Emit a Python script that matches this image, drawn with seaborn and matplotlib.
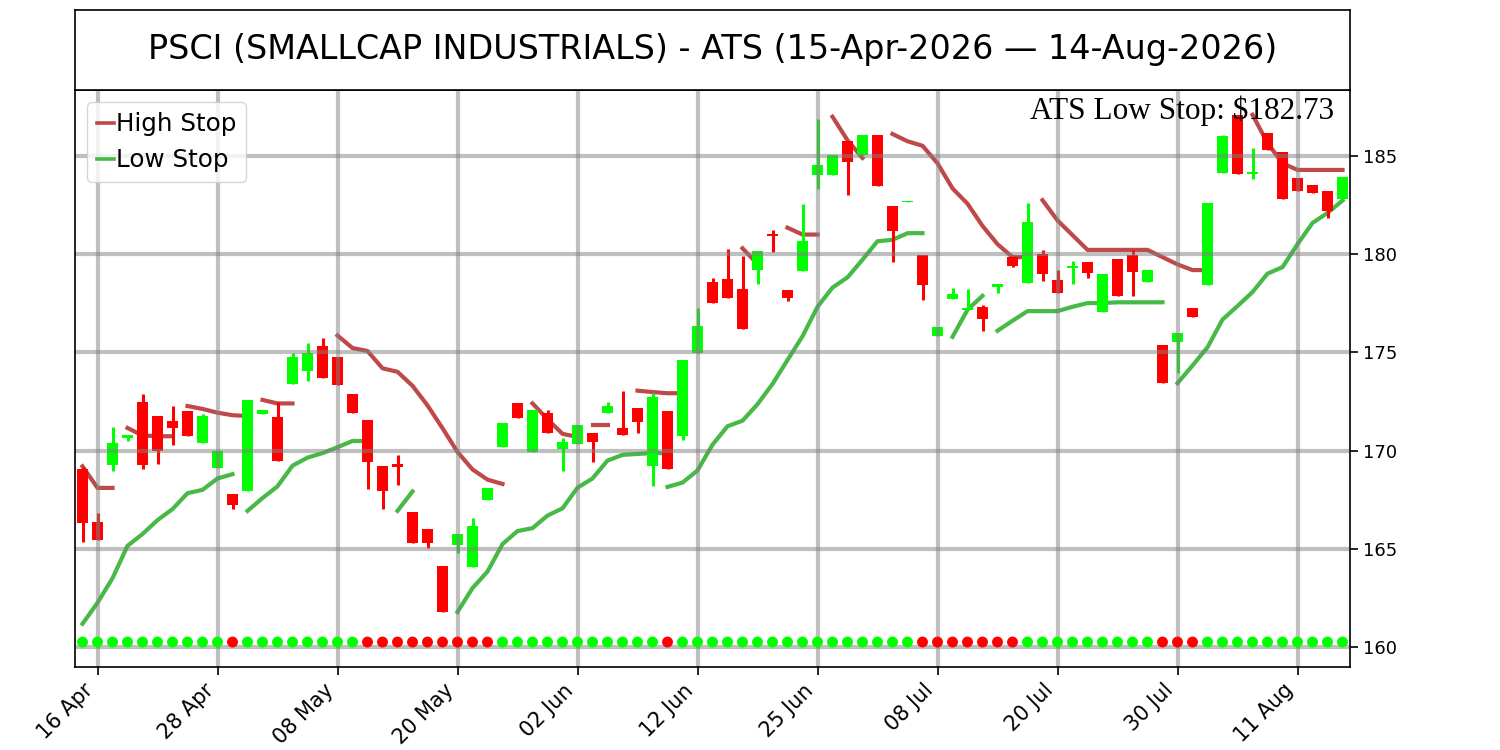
import numpy as np
import pandas as pd
import matplotlib
matplotlib.use("Agg")
import matplotlib.pyplot as plt
from matplotlib.lines import Line2D
import seaborn as sns

# ---------------- data ----------------
title = "PSCI (SMALLCAP INDUSTRIALS) - ATS (15-Apr-2026 \u2014 14-Aug-2026)"
tick_pos = [1, 9, 17, 25, 33, 41, 49, 57, 65, 73, 81]
tick_labels = ["16 Apr", "28 Apr", "08 May", "20 May", "02 Jun", "12 Jun",
               "25 Jun", "08 Jul", "20 Jul", "30 Jul", "11 Aug"]

opens = [169.08, 166.37, 169.27, 170.66, 172.49, 171.74, 171.52, 171.99, 170.39, 169.12,
         167.77, 167.96, 171.85, 171.70, 173.39, 174.04, 175.32, 174.76, 172.88, 171.55,
         169.23, 169.33, 166.89, 166.03, 164.12, 165.21, 164.08, 167.49, 170.17, 172.42,
         169.93, 171.93, 170.06, 170.34, 170.92, 171.89, 171.14, 172.17, 169.23, 171.99,
         170.73, 174.98, 178.60, 178.73, 178.22, 179.19, 181.03, 178.16, 179.14, 184.03,
         184.03, 185.75, 185.04, 186.09, 182.47, 182.68, 179.94, 175.82, 177.70, 177.17,
         177.32, 178.35, 179.85, 178.54, 180.00, 178.67, 179.29, 179.61, 177.04, 179.76,
         179.94, 178.60, 175.39, 175.54, 177.27, 178.45, 184.12, 187.10, 184.06, 186.16,
         185.22, 183.88, 183.54, 183.22, 182.81]
highs = [169.18, 166.84, 171.18, 170.80, 172.87, 171.74, 172.27, 171.99, 171.85, 169.98,
         167.77, 172.60, 172.08, 172.45, 174.98, 175.49, 175.73, 174.76, 172.88, 171.55,
         169.23, 169.79, 166.89, 166.03, 164.12, 165.75, 166.59, 168.11, 171.42, 172.42,
         172.08, 172.08, 170.62, 171.29, 170.92, 172.49, 173.05, 172.17, 172.92, 171.99,
         174.63, 177.28, 178.78, 180.28, 179.91, 180.17, 181.25, 178.16, 182.57, 186.87,
         185.04, 185.75, 186.09, 186.09, 182.47, 182.72, 179.94, 176.29, 178.30, 178.22,
         177.42, 178.48, 179.85, 182.62, 180.21, 179.19, 179.64, 179.61, 179.01, 179.76,
         180.22, 179.19, 175.39, 176.01, 177.27, 182.62, 186.09, 187.10, 185.41, 186.16,
         185.22, 183.88, 183.54, 183.22, 183.93]
lows = [165.37, 165.43, 168.95, 170.49, 169.04, 169.31, 170.30, 170.73, 170.39, 169.12,
        167.02, 167.96, 171.85, 169.46, 173.39, 173.54, 173.71, 173.35, 171.93, 168.05,
        167.02, 168.24, 165.30, 165.06, 161.78, 164.78, 164.08, 167.49, 170.17, 171.67,
        169.93, 170.92, 168.95, 170.34, 169.42, 171.89, 170.77, 170.92, 168.18, 169.04,
        170.54, 174.98, 177.51, 177.75, 176.20, 178.48, 180.09, 177.60, 179.14, 183.31,
        184.03, 183.00, 185.04, 183.45, 179.61, 182.68, 177.66, 175.82, 177.70, 177.17,
        176.10, 178.03, 179.35, 178.54, 178.63, 178.03, 178.48, 178.78, 177.04, 177.85,
        177.88, 178.60, 173.43, 173.95, 176.80, 178.45, 184.12, 184.06, 183.82, 185.28,
        182.79, 183.22, 183.09, 181.82, 182.81]
closes = [166.31, 165.43, 170.39, 170.77, 169.27, 169.98, 171.14, 170.73, 171.74, 169.98,
          167.25, 172.60, 172.08, 169.46, 174.74, 174.98, 173.71, 173.35, 171.93, 169.42,
          167.96, 169.14, 165.30, 165.30, 161.78, 165.75, 166.14, 168.11, 171.42, 171.67,
          172.08, 170.92, 170.43, 171.29, 170.43, 172.27, 170.81, 171.48, 172.73, 169.04,
          174.63, 176.35, 177.51, 177.75, 176.20, 180.17, 180.92, 177.79, 180.69, 184.53,
          185.04, 184.68, 186.09, 183.45, 181.16, 182.72, 178.41, 176.29, 177.98, 177.28,
          176.72, 178.48, 179.42, 181.63, 179.01, 178.03, 179.42, 179.04, 179.01, 177.85,
          179.10, 179.19, 173.43, 176.01, 176.80, 182.62, 186.03, 184.06, 184.16, 185.28,
          182.79, 183.22, 183.09, 182.19, 183.93]

# trend signal dots (g = up, r = down), one per session
signal = list("gggggggggg" "r" "gggggggg" "rrrrrrrrr" "ggggggggggg" "r"
              "gggggggggggggggg" "rrrrrrr" "ggggggggg" "rrr" "gggggggggg")
signal_level = 160.25

# stop-line segments: (start index, values)
high_stop_segments = [
    (0, [169.2, 168.1, 168.1]),
    (3, [171.15, 170.77, 170.73, 170.73]),
    (7, [172.27, 172.12, 171.93, 171.80, 171.76]),
    (12, [172.58, 172.40, 172.40]),
    (17, [175.86, 175.22, 175.07, 174.19, 174.01, 173.30, 172.30, 171.14, 169.93,
          169.04, 168.52, 168.30]),
    (30, [172.40, 171.60, 170.85, 170.70]),
    (34, [171.30, 171.30]),
    (37, [173.05, 172.98, 172.92, 172.92]),
    (44, [180.30, 179.50]),
    (47, [181.35, 181.00, 181.00]),
    (50, [187.00, 185.80, 184.90]),
    (54, [186.12, 185.75, 185.52, 184.63, 183.35, 182.57, 181.44, 180.51, 179.85, 179.85]),
    (64, [182.75, 181.72, 180.97, 180.22, 180.22, 180.22, 180.22, 180.22, 179.85,
          179.48, 179.19, 179.19]),
    (78, [187.10, 185.66, 184.63, 184.29, 184.29, 184.29, 184.29]),
]
low_stop_segments = [
    (0, [161.18, 162.25, 163.50, 165.15, 165.75, 166.46, 167.02, 167.83, 168.00,
         168.58, 168.80]),
    (11, [166.93, 167.58, 168.18, 169.23, 169.64, 169.87, 170.17, 170.49, 170.49]),
    (21, [166.93, 167.92]),
    (25, [161.78, 163.00, 163.84, 165.24, 165.90, 166.05, 166.69, 167.06, 168.11,
          168.58, 169.49, 169.78, 169.83, 169.87, 169.87]),
    (39, [168.15, 168.37, 168.99, 170.30, 171.24, 171.52, 172.36, 173.39, 174.61,
          175.82, 177.32, 178.30, 178.82, 179.72, 180.66, 180.73, 181.07, 181.07]),
    (58, [175.79, 177.17, 177.88]),
    (61, [176.10, 176.61, 177.10, 177.10, 177.10, 177.32, 177.51, 177.51, 177.55,
          177.55, 177.55, 177.55]),
    (73, [173.43, 174.33, 175.26, 176.67, 177.36, 178.07, 179.01, 179.34, 180.51,
          181.59, 182.10, 182.73]),
]
ats_text = "ATS Low Stop: $182.73"

# ---------------- styling ----------------
UP = "#00ff00"
DOWN = "#ff0000"
HIGH_C = "#bf4848"
LOW_C = "#46b946"

plt.rcParams["font.family"] = ["DejaVu Sans"]

fig = plt.figure(figsize=(15, 7.5), dpi=100)
ax = fig.add_axes([0.05, 1 - 667 / 750, 0.85, 577 / 750])
tax = fig.add_axes([0.05, 1 - 90 / 750, 0.85, 80 / 750])

n = len(opens)
idx = np.arange(n)
o = np.array(opens); c = np.array(closes)
h = np.array(highs); l = np.array(lows)
col = np.where(c >= o, UP, DOWN)

# stop lines (under candles)
def seg_frame(segs):
    rows = []
    for k, (s, vals) in enumerate(segs):
        for j, v in enumerate(vals):
            rows.append({"idx": s + j, "value": v, "seg": k})
    return pd.DataFrame(rows)

hdf = seg_frame(high_stop_segments)
ldf = seg_frame(low_stop_segments)
sns.lineplot(data=hdf, x="idx", y="value", units="seg", estimator=None, sort=False,
             color=HIGH_C, lw=3, ax=ax, zorder=0.9, legend=False)
sns.lineplot(data=ldf, x="idx", y="value", units="seg", estimator=None, sort=False,
             color=LOW_C, lw=3, ax=ax, zorder=0.9, legend=False)

# candles
ax.vlines(idx, l, h, colors=col, lw=2.2, zorder=1)
body_h = np.maximum(np.abs(c - o), 0.03)
ax.bar(idx, body_h, bottom=np.minimum(o, c), width=0.7, color=col, zorder=1, linewidth=0)

# signal dots
sdf = pd.DataFrame({"idx": idx, "y": [signal_level] * n, "sig": signal})
sns.scatterplot(data=sdf, x="idx", y="y", hue="sig", palette={"g": UP, "r": DOWN},
                s=62, linewidth=0, ax=ax, legend=False, zorder=2)

ax.set_xlim(-0.5, n - 0.5)
ax.set_ylim(158.98, 188.36)
ax.set_xticks(tick_pos)
ax.set_xticklabels(tick_labels, rotation=45, ha="right", fontsize=15)
ax.set_yticks([160, 165, 170, 175, 180, 185])
ax.yaxis.tick_right()
ax.tick_params(axis="y", labelsize=13, length=6, width=1.2)
ax.tick_params(axis="x", length=6, width=1.2)
ax.set_xlabel("")
ax.set_ylabel("")
ax.grid(True, color="grey", alpha=0.5, lw=3)
for sp in ax.spines.values():
    sp.set_linewidth(1.2)

handles = [Line2D([0], [0], color=HIGH_C, lw=2.6), Line2D([0], [0], color=LOW_C, lw=2.6)]
ax.legend(handles, ["High Stop", "Low Stop"], loc="upper left", fontsize=17.7,
          handlelength=0.7, handletextpad=0.05, borderaxespad=0.5, borderpad=0.4)

ax.text(0.9875, 0.9497, ats_text, transform=ax.transAxes, ha="right", va="baseline",
        fontsize=22.5, family=["Liberation Serif"], zorder=5)

tax.set_xticks([]); tax.set_yticks([])
tax.text(0.5, 0.5, title, ha="center", va="center", fontsize=24, transform=tax.transAxes)
for sp in tax.spines.values():
    sp.set_linewidth(1.2)

fig.savefig("out.png", dpi=100)
